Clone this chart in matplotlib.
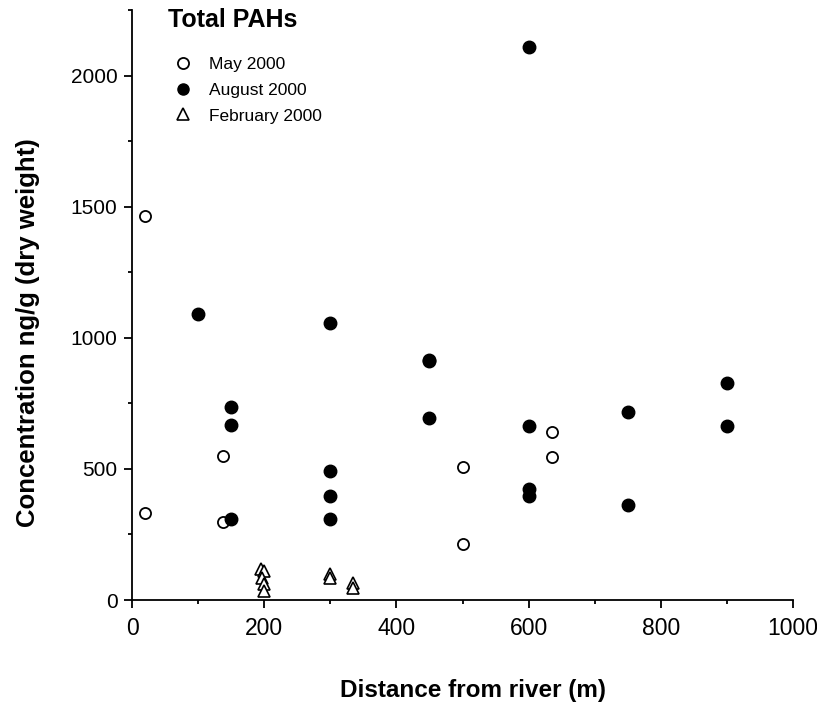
import matplotlib.pyplot as plt
from matplotlib.ticker import MultipleLocator

plt.rcParams['font.family'] = ['Liberation Sans', 'DejaVu Sans']

# May 2000 (open circles)
may_x = [20, 20, 137, 137, 500, 500, 635, 635]
may_y = [1463, 330, 548, 296, 506, 215, 641, 546]

# August 2000 (filled circles)
aug_x = [100, 150, 150, 150, 300, 300, 300, 300, 450, 450, 450,
         600, 600, 600, 600, 750, 750, 900, 900]
aug_y = [1089, 735, 667, 309, 1055, 492, 397, 308, 917, 910, 696,
         2110, 663, 425, 396, 716, 363, 826, 662]

# February 2000 (open triangles)
feb_x = [195, 200, 197, 200, 200, 300, 300, 335, 335]
feb_y = [120, 110, 85, 62, 35, 98, 85, 65, 45]

fig = plt.figure(figsize=(8.17, 7.07), dpi=100)
ax = fig.add_axes([0.1616, 0.1513, 0.809, 0.8346])

ax.plot(may_x, may_y, 'o', mfc='white', mec='black', mew=1.3, ms=8,
        linestyle='none', label='May 2000')
ax.plot(aug_x, aug_y, 'o', mfc='black', mec='black', ms=9,
        linestyle='none', label='August 2000')
ax.plot(feb_x, feb_y, '^', mfc='white', mec='black', mew=1.2, ms=8.5,
        linestyle='none', label='February 2000')

ax.set_xlim(0, 1000)
ax.set_ylim(0, 2250)
ax.xaxis.set_major_locator(MultipleLocator(200))
ax.xaxis.set_minor_locator(MultipleLocator(100))
ax.yaxis.set_major_locator(MultipleLocator(500))
ax.yaxis.set_minor_locator(MultipleLocator(250))
ax.tick_params(which='major', direction='out', length=5.5, width=1.3)
ax.tick_params(which='minor', direction='out', length=3, width=1.3)
ax.tick_params(axis='x', which='major', labelsize=16.5, pad=7)
ax.tick_params(axis='y', which='major', labelsize=15, pad=5)

for s in ['top', 'right']:
    ax.spines[s].set_visible(False)
for s in ['left', 'bottom']:
    ax.spines[s].set_linewidth(1.3)

ax.set_xlabel('Distance from river (m)', fontsize=17.5, fontweight='bold')
ax.set_ylabel('Concentration ng/g (dry weight)', fontsize=18.5,
              fontweight='bold')
ax.xaxis.set_label_coords(0.516, -0.133)
ax.yaxis.set_label_coords(-0.139, 0.454)

# legend title drawn separately so it sits left of the markers
fig.text(168 / 817, 1 - 20 / 707, 'Total PAHs', fontsize=18,
         fontweight='bold', ha='left', va='center')
leg = ax.legend(loc='upper left', bbox_to_anchor=(0.061, 0.921),
                frameon=False, fontsize=12.5,
                handletextpad=0.9, labelspacing=0.62, handlelength=1.2,
                borderaxespad=0.0, borderpad=0.0)
for h in leg.legend_handles:
    h.set_markersize(8)

fig.savefig('out.png', dpi=100)
